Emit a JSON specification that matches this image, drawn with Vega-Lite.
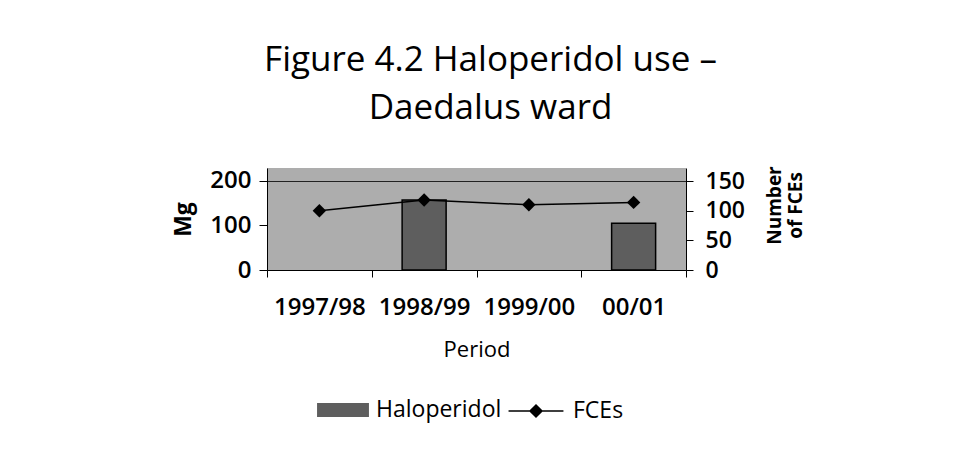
{
  "$schema": "https://vega.github.io/schema/vega-lite/v6.json",
  "width": 419,
  "height": 102,
  "autosize": {"type": "none"},
  "padding": {"left": 267, "top": 168, "right": 269, "bottom": 193},
  "background": "white",
  "title": {
    "text": ["Figure 4.2 Haloperidol use –", "Daedalus ward"],
    "fontSize": 35,
    "font": "Open Sans",
    "fontWeight": "normal",
    "lineHeight": 48,
    "anchor": "middle",
    "offset": 40,
    "dx": 14,
    "color": "black"
  },
  "data": {
    "values": [
      {"period": "1997/98", "mg": 0, "fces": 100},
      {"period": "1998/99", "mg": 157, "fces": 118},
      {"period": "1999/00", "mg": 0, "fces": 110},
      {"period": "00/01", "mg": 105, "fces": 114}
    ]
  },
  "encoding": {
    "x": {
      "field": "period",
      "type": "nominal",
      "sort": null,
      "scale": {"domain": ["1997/98", "1998/99", "1999/00", "00/01"], "paddingInner": 0, "paddingOuter": 0},
      "axis": {
        "title": "Period",
        "titleFontSize": 22,
        "titleFontWeight": "normal",
        "titlePadding": 20,
        "titleColor": "black",
        "labelAngle": 0,
        "labelFontSize": 24,
        "labelFontWeight": 600,
        "labelColor": "black",
        "labelPadding": 18,
        "labelOverlap": false,
        "tickBand": "extent",
        "tickSize": 7,
        "tickColor": "black",
        "domainColor": "black"
      }
    }
  },
  "layer": [
    {
      "transform": [{"filter": "datum.mg > 0"}],
      "mark": {"type": "bar", "width": {"band": 0.42}, "stroke": "black", "strokeWidth": 1.5},
      "encoding": {
        "y": {
          "field": "mg",
          "type": "quantitative",
          "scale": {"domain": [0, 229], "nice": false},
          "axis": {
            "values": [0, 100, 200],
            "title": "Mg",
            "titleFontSize": 23,
            "titleFontWeight": "bold",
            "titleColor": "black",
            "titlePadding": 14,
            "labelFontSize": 24,
            "labelFontWeight": 600,
            "labelColor": "black",
            "labelPadding": 8,
            "labelOverlap": false,
            "tickSize": 8,
            "tickColor": "black",
            "domainColor": "black",
            "grid": true,
            "gridColor": {"condition": {"test": "datum.value === 200", "value": "#222222"}, "value": "transparent"},
            "gridWidth": 1
          }
        },
        "fill": {
          "datum": "Haloperidol",
          "scale": {"range": ["#5e5e5e"]},
          "legend": {
            "title": null,
            "orient": "none",
            "legendX": 61,
            "legendY": 227,
            "padding": 0,
            "symbolType": "M-1.73,-0.47H1.73V0.47H-1.73Z",
            "symbolSize": 900,
            "symbolStrokeWidth": 0,
            "labelOffset": 18,
            "labelFontSize": 23,
            "labelFont": "Open Sans",
            "labelColor": "black"
          }
        }
      }
    },
    {
      "encoding": {
        "y": {
          "field": "fces",
          "type": "quantitative",
          "scale": {"domain": [0, 172], "nice": false},
          "axis": {
            "orient": "right",
            "values": [0, 50, 100, 150],
            "title": ["Number", "of FCEs"],
            "titleAngle": 270,
            "titleFontSize": 19,
            "titleFontWeight": "bold",
            "titleColor": "black",
            "titleLineHeight": 21,
            "titlePadding": 19,
            "titleY": 37,
            "labelFontSize": 23,
            "labelFontWeight": 600,
            "labelColor": "black",
            "labelPadding": 12,
            "labelOverlap": false,
            "tickSize": 7,
            "tickColor": "black",
            "domainColor": "black",
            "grid": false
          }
        }
      },
      "layer": [
        {
          "mark": {"type": "line", "strokeWidth": 1.5},
          "encoding": {
            "stroke": {
              "datum": "FCEs",
              "scale": {"range": ["black"]},
              "legend": {
                "title": null,
                "orient": "none",
                "legendX": 253,
                "legendY": 227,
                "padding": 0,
                "symbolType": "M-1.83,0H-0.4M0.4,0H1.83M0,-0.4L0.4,0L0,0.4L-0.4,0Z",
                "symbolSize": 900,
                "symbolStrokeWidth": 1.5,
                "symbolFillColor": "black",
                "symbolStrokeColor": "black",
                "labelOffset": 21,
                "labelFontSize": 23,
                "labelFont": "Open Sans",
                "labelColor": "black"
              }
            }
          }
        },
        {
          "mark": {"type": "point", "shape": "diamond", "filled": true, "size": 180, "opacity": 1, "color": "black"}
        }
      ]
    }
  ],
  "resolve": {"scale": {"y": "independent"}},
  "config": {
    "view": {"fill": "#adadad", "stroke": null},
    "font": "Open Sans"
  }
}
